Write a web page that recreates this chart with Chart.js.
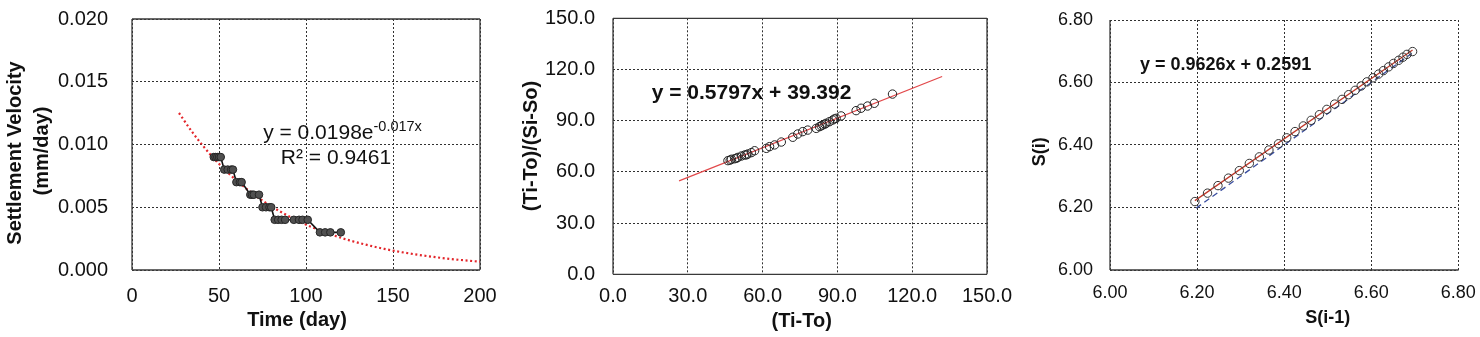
<!DOCTYPE html>
<html><head><meta charset="utf-8">
<script src="https://cdn.jsdelivr.net/npm/chart.js@4.4.1/dist/chart.umd.min.js"></script>
<style>
html,body{margin:0;padding:0;background:#fff;width:1480px;height:337px;overflow:hidden}
canvas{position:absolute;top:0}
</style></head><body>
<canvas id="c1" style="left:0px" width="505" height="337"></canvas>
<canvas id="c2" style="left:505px" width="515" height="337"></canvas>
<canvas id="c3" style="left:1020px" width="460" height="337"></canvas>
<script>
// ---------- Chart 1: settlement velocity vs time ----------
const velTime  = [47, 48, 49, 50, 51, 53, 55, 57, 58, 60, 62, 63, 68, 69, 70, 73, 75, 77, 79, 80, 82, 84, 86, 88, 93, 96, 98, 101, 108, 111, 114, 120];
const velValue = [0.009, 0.009, 0.009, 0.009, 0.009, 0.008, 0.008, 0.008, 0.008, 0.007, 0.007, 0.007, 0.006, 0.006, 0.006, 0.006, 0.005, 0.005, 0.005, 0.005, 0.004, 0.004, 0.004, 0.004, 0.004, 0.004, 0.004, 0.004, 0.003, 0.003, 0.003, 0.003];
const velTrendTime  = [27, 35, 45, 55, 65, 75, 85, 95, 105, 115, 125, 135, 145, 155, 165, 175, 185, 200];
const velTrendValue = [0.01251, 0.01092, 0.00921, 0.00777, 0.00656, 0.00553, 0.00467, 0.00394, 0.00332, 0.00280, 0.00236, 0.00200, 0.00168, 0.00142, 0.00120, 0.00101, 0.00085, 0.00066];
const velXTicks = ['0', '50', '100', '150', '200'];
const velYTicks = ['0.000', '0.005', '0.010', '0.015', '0.020'];

// ---------- Chart 2: hyperbolic method ----------
const hypX = [46.1, 47.0, 47.5, 48.8, 49.5, 50.1, 51.5, 52.8, 53.5, 54.1, 55.5, 56.8, 61.5, 62.8, 64.8, 67.5, 72.1, 74.1, 76.1, 78.1, 81.5, 82.8, 83.5, 84.1, 85.0, 85.5, 86.8, 88.1, 88.8, 89.5, 91.5, 97.5, 99.5, 102.1, 104.8, 112.1];
const hypY = [66.6, 66.9, 67.4, 67.7, 68.0, 68.5, 69.3, 69.9, 70.0, 70.5, 71.3, 72.4, 73.8, 74.8, 75.8, 77.5, 80.3, 82.2, 83.6, 84.5, 85.5, 86.5, 87.0, 87.5, 88.0, 88.5, 89.4, 90.4, 91.0, 91.4, 92.8, 95.9, 97.3, 98.6, 100.2, 105.6];
const hypFitX = [26.5, 132.0];
const hypFitY = [54.7, 115.9];
const hypXTicks = ['0.0', '30.0', '60.0', '90.0', '120.0', '150.0'];
const hypYTicks = ['0.0', '30.0', '60.0', '90.0', '120.0', '150.0'];

// ---------- Chart 3: Asaoka method ----------
const asaX = [6.195, 6.224, 6.248, 6.272, 6.297, 6.320, 6.343, 6.365, 6.387, 6.406, 6.425, 6.444, 6.462, 6.481, 6.498, 6.516, 6.533, 6.548, 6.563, 6.577, 6.590, 6.604, 6.617, 6.628, 6.640, 6.651, 6.663, 6.673, 6.682, 6.695];
const asaY = [6.219, 6.246, 6.270, 6.294, 6.318, 6.341, 6.362, 6.384, 6.404, 6.423, 6.443, 6.461, 6.479, 6.497, 6.514, 6.531, 6.546, 6.561, 6.575, 6.589, 6.602, 6.615, 6.627, 6.638, 6.650, 6.661, 6.671, 6.681, 6.690, 6.699];
const asaFitX = [6.195, 6.695];
const asaFitY = [6.222, 6.704];
const asaRefX = [6.198, 6.693];
const asaRefY = [6.198, 6.693];
const asaTicks = ['6.00', '6.20', '6.40', '6.60', '6.80'];

const FONT = "'Liberation Sans', Arial, Helvetica, sans-serif";
function pts(xs, ys) { return xs.map((x, i) => ({x: x, y: ys[i]})); }

const deco = {
  id: 'deco',
  beforeDatasetsDraw(chart, args, o) {
    const ctx = chart.ctx, a = chart.chartArea, s = o.sides || '';
    ctx.save();
    ctx.strokeStyle = '#3a3a3a'; ctx.lineWidth = 1.3; ctx.setLineDash([]);
    ctx.beginPath();
    if (s.indexOf('l') >= 0) { ctx.moveTo(a.left, a.top); ctx.lineTo(a.left, a.bottom); }
    if (s.indexOf('b') >= 0) { ctx.moveTo(a.left, a.bottom); ctx.lineTo(a.right, a.bottom); }
    if (s.indexOf('t') >= 0) { ctx.moveTo(a.left, a.top); ctx.lineTo(a.right, a.top); }
    if (s.indexOf('r') >= 0) { ctx.moveTo(a.right, a.top); ctx.lineTo(a.right, a.bottom); }
    ctx.stroke();
    ctx.restore();
  },
  afterDraw(chart, args, o) {
    const ctx = chart.ctx;
    const items = o.texts || [];
    for (let k = 0; k < items.length; k++) {
      const it = items[k];
      const runs = it.runs ? it.runs : [{t: it.t, font: it.font, dy: 0}];
      ctx.save();
      ctx.translate(it.x, it.y);
      if (it.rot) ctx.rotate(it.rot);
      ctx.fillStyle = '#111';
      ctx.textBaseline = it.base || 'middle';
      ctx.textAlign = 'left';
      const widths = [];
      let total = 0;
      for (let j = 0; j < runs.length; j++) { ctx.font = runs[j].font; const w = ctx.measureText(runs[j].t).width; widths.push(w); total += w; }
      let x = it.align === 'left' ? 0 : -total / 2;
      for (let j = 0; j < runs.length; j++) { ctx.font = runs[j].font; ctx.fillText(runs[j].t, x, runs[j].dy || 0); x += widths[j]; }
      ctx.restore();
    }
  }
};

function axis(min, max, step, labels, o) {
  return {
    type: 'linear', min: min, max: max,
    ticks: {
      stepSize: step, padding: o.pad, color: '#111', autoSkip: false, maxRotation: 0,
      font: {family: FONT, size: o.size},
      callback: (v, i) => labels[i]
    },
    grid: {color: '#303030', lineWidth: 1, drawTicks: false},
    border: {display: false, dash: [2, 2]},
    afterFit: (s) => {
      if (o.w != null) s.width = o.w;
      if (o.h != null) s.height = o.h;
      s.paddingTop = 0; s.paddingBottom = 0; s.paddingLeft = 0; s.paddingRight = 0;
    }
  };
}

function baseOpts(pad, xs, ys, decoOpts) {
  return {
    responsive: false, animation: false, devicePixelRatio: 1,
    layout: {padding: pad},
    plugins: {legend: {display: false}, tooltip: {enabled: false}, deco: decoOpts},
    scales: {x: xs, y: ys}
  };
}

// Chart 1
new Chart(document.getElementById('c1'), {
  type: 'scatter',
  plugins: [deco],
  data: {datasets: [
    {data: pts(velTime, velValue), showLine: true, borderColor: '#111', borderWidth: 1.6,
     pointRadius: 3.8, pointBackgroundColor: '#505050', pointBorderColor: '#262626', pointBorderWidth: 1},
    {data: pts(velTrendTime, velTrendValue), showLine: true, borderColor: '#e3262b', borderWidth: 2.2,
     borderDash: [2, 2.6], pointRadius: 0, cubicInterpolationMode: 'monotone'}
  ]},
  options: baseOpts({top: 19, right: 25, left: 0, bottom: 0},
    axis(0, 200, 50, velXTicks, {pad: 14, size: 20, h: 67}),
    axis(0, 0.02, 0.005, velYTicks, {pad: 24, size: 20, w: 132}),
    {sides: 'lbtr', texts: [
      {x: 15, y: 153, rot: -Math.PI / 2, t: 'Settlement Velocity', font: 'bold 20px ' + FONT},
      {x: 42, y: 151, rot: -Math.PI / 2, t: '(mm/day)', font: 'bold 20px ' + FONT},
      {x: 297, y: 320, t: 'Time (day)', font: 'bold 20px ' + FONT},
      {x: 342.5, y: 138.5, base: 'alphabetic', runs: [
        {t: 'y = 0.0198e', font: '21px ' + FONT, dy: 0},
        {t: '-0.017x', font: '14.5px ' + FONT, dy: -8}]},
      {x: 336, y: 164, base: 'alphabetic', t: 'R\u00B2 = 0.9461', font: '21px ' + FONT}
    ]})
});

// Chart 2
new Chart(document.getElementById('c2'), {
  type: 'scatter',
  plugins: [deco],
  data: {datasets: [
    {data: pts(hypX, hypY), showLine: false, pointRadius: 4.2, pointBackgroundColor: 'rgba(0,0,0,0)',
     pointBorderColor: '#222', pointBorderWidth: 1},
    {data: pts(hypFitX, hypFitY), showLine: true, borderColor: '#e2494b', borderWidth: 1.3, pointRadius: 0}
  ]},
  options: baseOpts({top: 18.3, right: 33, left: 0, bottom: 0},
    axis(0, 150, 30, hypXTicks, {pad: 10, size: 20, h: 62.7}),
    axis(0, 150, 30, hypYTicks, {pad: 18, size: 20, w: 108}),
    {sides: 'lbtr', texts: [
      {x: 26.7, y: 146, rot: -Math.PI / 2, t: '(Ti-To)/(Si-So)', font: 'bold 20px ' + FONT},
      {x: 296.7, y: 321.7, t: '(Ti-To)', font: 'bold 20px ' + FONT},
      {x: 146.7, y: 99, base: 'alphabetic', align: 'left', t: 'y = 0.5797x + 39.392', font: 'bold 21px ' + FONT}
    ]})
});

// Chart 3
new Chart(document.getElementById('c3'), {
  type: 'scatter',
  plugins: [deco],
  data: {datasets: [
    {data: pts(asaX, asaY), showLine: false, pointRadius: 4.2, pointBackgroundColor: 'rgba(0,0,0,0)',
     pointBorderColor: '#333', pointBorderWidth: 1},
    {data: pts(asaFitX, asaFitY), showLine: true, borderColor: '#c0392b', borderWidth: 1.3, pointRadius: 0},
    {data: pts(asaRefX, asaRefY), showLine: true, borderColor: '#3b4fa0', borderWidth: 1.3, borderDash: [6, 4], pointRadius: 0}
  ]},
  options: baseOpts({top: 20, right: 21.7, left: 0, bottom: 0},
    axis(6, 6.8, 0.2, asaTicks, {pad: 12, size: 18, h: 67}),
    axis(6, 6.8, 0.2, asaTicks, {pad: 17, size: 18, w: 90}),
    {sides: 'lb', texts: [
      {x: 20, y: 151.7, rot: -Math.PI / 2, t: 'S(i)', font: 'bold 18px ' + FONT},
      {x: 307.7, y: 318, t: 'S(i-1)', font: 'bold 18px ' + FONT},
      {x: 120, y: 70, base: 'alphabetic', align: 'left', t: 'y = 0.9626x + 0.2591', font: 'bold 18px ' + FONT}
    ]})
});
</script>
</body></html>
